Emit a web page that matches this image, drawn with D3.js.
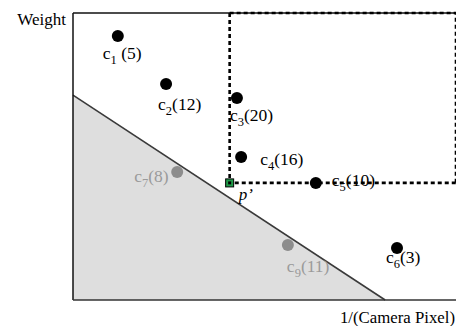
<!DOCTYPE html>
<html>
<head>
<meta charset="utf-8">
<script src="https://cdn.jsdelivr.net/npm/d3@7"></script>
<style>
  html, body { margin: 0; padding: 0; background: #fff; }
  svg { display: block; }
  text { font-family: "Liberation Serif", "Times New Roman", serif; }
</style>
</head>
<body>
<script>
// Candidate cameras: id, normalised 1/(camera pixel) and weight, plus the count shown in brackets
const names    = ["1", "2", "3", "4", "5", "6", "7", "9"];
const invPixel = [11.7, 24.3, 42.8, 43.9, 63.4, 84.6, 27.2, 56.1];
const weight   = [92.0, 75.3, 70.4, 49.8, 40.8, 18.1, 44.6, 19.2];
const counts   = [5, 12, 20, 16, 10, 3, 8, 11];
const dominated = [false, false, false, false, false, false, true, true];

// Query point p' and the pruned half-plane boundary
const queryPoint = { x: 40.9, y: 40.8 };
const boundaryX = [0, 81.5];
const boundaryY = [71.4, 0];

const W = 456, H = 326;
const svg = d3.select("body").append("svg").attr("width", W).attr("height", H);

const x = d3.scaleLinear().domain([0, 100]).range([73, 456]);
const y = d3.scaleLinear().domain([0, 100]).range([300, 13]);

// Shaded (pruned) region under the boundary line
svg.append("path")
  .attr("d", d3.line()([[x(0), y(0)], [x(boundaryX[0]), y(boundaryY[0])], [x(boundaryX[1]), y(boundaryY[1])]]) + "Z")
  .attr("fill", "#dedede")
  .attr("stroke", "none");
svg.append("line")
  .attr("x1", x(boundaryX[0])).attr("y1", y(boundaryY[0]))
  .attr("x2", x(boundaryX[1])).attr("y2", y(boundaryY[1]))
  .attr("stroke", "#3a3a3a").attr("stroke-width", 1.6);

// Axes frame
svg.append("line").attr("x1", x(0)).attr("x2", x(0)).attr("y1", y(100)).attr("y2", y(0))
  .attr("stroke", "#111").attr("stroke-width", 1.5);
svg.append("line").attr("x1", x(0)).attr("x2", W).attr("y1", y(100)).attr("y2", y(100))
  .attr("stroke", "#111").attr("stroke-width", 1.5);
svg.append("line").attr("x1", x(0)).attr("x2", W).attr("y1", y(0)).attr("y2", y(0))
  .attr("stroke", "#333").attr("stroke-width", 1.5);

// Dominance region of p' (dotted)
svg.append("path")
  .attr("d", `M${x(queryPoint.x)},${y(100)} L${x(queryPoint.x)},${y(queryPoint.y)} L${x(100)},${y(queryPoint.y)}`)
  .attr("fill", "none").attr("stroke", "#000").attr("stroke-width", 2.6)
  .attr("stroke-dasharray", "4,3");
svg.append("path")
  .attr("d", `M${x(queryPoint.x)},${y(100)} L${x(100)},${y(100)} L${x(100)},${y(queryPoint.y)}`)
  .attr("fill", "none").attr("stroke", "#000").attr("stroke-width", 2.6)
  .attr("stroke-dasharray", "4,3");

// Label offsets relative to each point (dx, dy to text baseline start, extra gap)
const labelOffset = {
  "1": [-15, 23, true], "2": [-8, 26, false], "3": [-7, 23, false], "4": [19, 8, false],
  "5": [16, 3, false], "6": [-11, 15, false], "7": [-43, 10, false], "9": [-1, 27, false]
};

const pts = names.map((n, i) => ({ n, x: invPixel[i], y: weight[i], c: counts[i], d: dominated[i] }));

svg.selectAll("circle.pt").data(pts).join("circle")
  .attr("class", "pt")
  .attr("cx", d => x(d.x)).attr("cy", d => y(d.y)).attr("r", 6)
  .attr("fill", d => d.d ? "#8c8c8c" : "#000");

const labels = svg.selectAll("text.lbl").data(pts).join("text")
  .attr("class", "lbl")
  .attr("x", d => x(d.x) + labelOffset[d.n][0])
  .attr("y", d => y(d.y) + labelOffset[d.n][1])
  .attr("font-size", 17.5)
  .attr("fill", d => d.d ? "#9a9a9a" : "#000");
labels.append("tspan").text("c");
labels.append("tspan").attr("font-size", 12.5).attr("dy", 5).text(d => d.n);
labels.append("tspan").attr("dy", -5).text(d => (labelOffset[d.n][2] ? "\u00a0" : "") + "(" + d.c + ")");

// Query point p'
const s = 8;
svg.append("rect")
  .attr("x", x(queryPoint.x) - s / 2).attr("y", y(queryPoint.y) - s / 2)
  .attr("width", s).attr("height", s)
  .attr("fill", "#1f9a48").attr("stroke", "#000").attr("stroke-width", 1);
svg.append("rect")
  .attr("x", x(queryPoint.x) - 1.5).attr("y", y(queryPoint.y) - 1.5)
  .attr("width", 3).attr("height", 3).attr("fill", "#000");
svg.append("text")
  .attr("x", x(queryPoint.x) + 9).attr("y", y(queryPoint.y) + 17)
  .attr("font-size", 17).attr("font-style", "italic")
  .text("p\u2019");

// Axis titles
svg.append("text").attr("x", 66).attr("y", 25).attr("text-anchor", "end")
  .attr("font-size", 17).text("Weight");
svg.append("text").attr("x", 455).attr("y", 323).attr("text-anchor", "end")
  .attr("font-size", 16.8).text("1/(Camera Pixel)");
</script>
</body>
</html>
